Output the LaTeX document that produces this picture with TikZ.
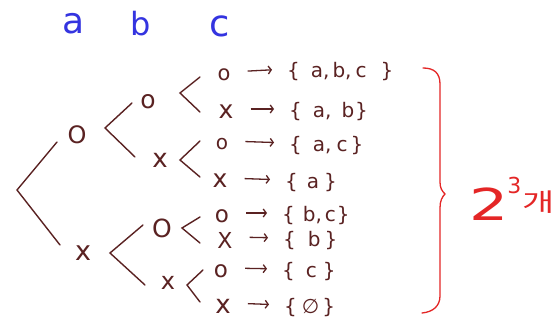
\documentclass[tikz,border=0pt]{standalone}
\usepackage{fontspec}
\setmainfont{DejaVu Sans}
\newfontfamily\kr{Noto Sans CJK KR}
\usetikzlibrary{arrows.meta}
\definecolor{ink}{HTML}{5A2222}
\definecolor{lblue}{HTML}{3434E0}
\definecolor{lred}{HTML}{E42626}
\newcommand{\fs}[1]{\fontsize{#1}{#1}\selectfont}
\begin{document}
\begin{tikzpicture}[x=1pt,y=-1pt,
  sym/.style={inner sep=0pt, text=ink},
  branch/.style={draw=ink, line width=1.4pt, line cap=round},
  setn/.style={anchor=west, inner sep=0pt, text=ink, font=\fs{20}},
  arr/.style={draw=ink, line width=1.3pt, shorten <=17pt, shorten >=15pt,
    -{Straight Barb[length=3pt,width=8pt]}},
  lbl/.style={inner sep=0pt, text=lblue},
  redline/.style={draw=lred, line width=1.3pt, line cap=round}]
\useasboundingbox (0,0) rectangle (558,329);
\fill[white] (0,0) rectangle (558,329);

% column labels
\node[lbl, font=\fs{36}] (la) at (74,24) {a};
\node[lbl, font=\fs{32}] (lb) at (141,24) {b};
\node[lbl, font=\fs{37}] (lc) at (220,26) {c};

% level a
\node[sym, font=\fs{24}] (oA) at (77,135) {O};
\node[sym, font=\fs{27}] (xA) at (83,253) {x};
% level b
\node[sym, font=\fs{25}] (oB1) at (148,102) {o};
\node[sym, font=\fs{26}] (xB1) at (160,160) {x};
\node[sym, font=\fs{25}] (oB2) at (162,228) {O};
\node[sym, font=\fs{24}] (xB2) at (168,283) {x};
% level c
\node[sym, font=\fs{21}] (c1) at (224,75) {o};
\node[sym, font=\fs{25}] (c2) at (226,112) {x};
\node[sym, font=\fs{20}] (c3) at (222,144) {o};
\node[sym, font=\fs{25}] (c4) at (220,181) {x};
\node[sym, font=\fs{23}] (c5) at (222,216) {o};
\node[sym, font=\fs{22}] (c6) at (225,240) {X};
\node[sym, font=\fs{23}] (c7) at (221,271) {o};
\node[sym, font=\fs{26}] (c8) at (223,306) {x};

% branches
\coordinate (r) at (17,190);
\coordinate (rU) at (57,142);
\coordinate (rD) at (60,245);
\draw[branch] (rU) -- (r) -- (rD);

\coordinate (vA) at (105,128);
\coordinate (vAU) at (132,103);
\coordinate (vAD) at (135,157);
\draw[branch] (vAU) -- (vA) -- (vAD);

\coordinate (vX) at (110,253);
\coordinate (vXU) at (143,225);
\coordinate (vXD) at (145,285);
\draw[branch] (vXU) -- (vX) -- (vXD);

\coordinate (v1) at (180,93);
\coordinate (v1U) at (200,77);
\coordinate (v1D) at (200,112);
\draw[branch] (v1U) -- (v1) -- (v1D);

\coordinate (v2) at (180,160);
\coordinate (v2U) at (200,141);
\coordinate (v2D) at (200,177);
\draw[branch] (v2U) -- (v2) -- (v2D);

\coordinate (v3) at (182,228);
\coordinate (v3U) at (200,217);
\coordinate (v3D) at (200,243);
\draw[branch] (v3U) -- (v3) -- (v3D);

\coordinate (v4) at (187,285);
\coordinate (v4U) at (203,270);
\coordinate (v4D) at (200,302);
\draw[branch] (v4U) -- (v4) -- (v4D);

% sets
\node[setn] (s1) at (287,72) {\{\hspace{11pt}a,\hspace{3pt}b,\hspace{4pt}c\hspace{14pt}\}};
\node[setn] (s2) at (289,112) {\{\hspace{11pt}a,\hspace{10pt}b\hspace{1pt}\}};
\node[setn] (s3) at (289,146) {\{\hspace{11pt}a,\hspace{5pt}c\hspace{3pt}\}};
\node[setn] (s4) at (285,183) {\{\hspace{9pt}a\hspace{5pt}\}};
\node[setn] (s5) at (282,216) {\{\hspace{8pt}b,\hspace{3pt}c\hspace{1pt}\}};
\node[setn] (s6) at (283,241) {\{\hspace{12pt}b\hspace{4pt}\}};
\node[setn] (s7) at (282,272) {\{\hspace{11pt}c\hspace{6pt}\}};
\node[setn] (s8) at (284,308) {\{\hspace{5pt}∅\hspace{3pt}\}};

% arrows
\foreach \i in {1,...,8}{
  \draw[arr] ([yshift=3pt]c\i.east) -- ([yshift=3pt]s\i.west);
}

% red brace
\draw[redline] (423,68) .. controls (434,68) and (440,73) .. (440,84)
  -- (440,182) .. controls (440,188) and (442,191) .. (445,194)
  .. controls (442,197) and (440,201) .. (440,208)
  -- (440,296) .. controls (440,306) and (433,312) .. (422,313);
\node[anchor=base west, inner sep=0pt, text=lred] (cnt) at (469,220)
  {\scalebox{1.4}[1]{\fs{44}2}\kern-1pt\raisebox{27pt}{\fs{22}3}\kern1pt\raisebox{9pt}{\scalebox{1.4}[1]{\kr\fs{25}개}}};
\end{tikzpicture}
\end{document}
